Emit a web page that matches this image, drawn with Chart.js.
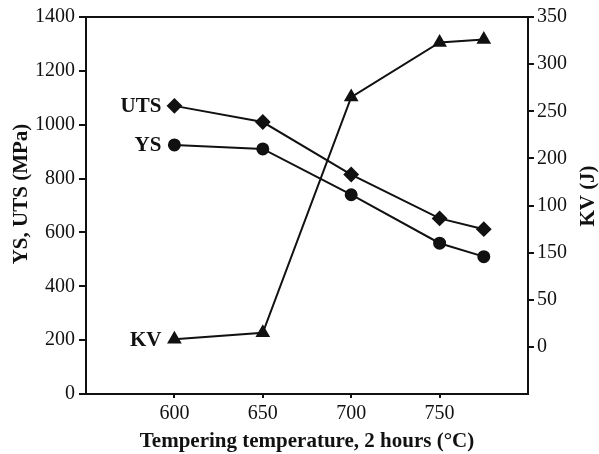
<!DOCTYPE html>
<html>
<head>
<meta charset="utf-8">
<script src="https://cdn.jsdelivr.net/npm/chart.js@4/dist/chart.umd.min.js"></script>
<style>
  html, body { margin: 0; padding: 0; background: #fff; }
</style>
</head>
<body>
<canvas id="chart" width="599" height="454"></canvas>
<script>
// tempering temperature (°C)
const temps = [600, 650, 700, 750, 775];
// strength (MPa) and impact energy (J)
const uts = [1070, 1010, 815, 652, 612];
const ys = [925, 910, 740, 560, 510];
const kv = [8, 15, 265, 323, 326];

const xTicks = [600, 650, 700, 750];
const strengthTicks = [0, 200, 400, 600, 800, 1000, 1200, 1400];
// right axis labels, one per 50 J step from 0 up (printed as in the paper)
const kvTickLabels = ['0', '50', '150', '100', '200', '250', '300', '350'];

const ink = '#111';
const serif = '"Liberation Serif", "Times New Roman", serif';

const pts = arr => arr.map((v, i) => ({ x: temps[i], y: v }));

const frameAndLabels = {
  id: 'frameAndLabels',
  afterDatasetsDraw(chart) {
    const { ctx, chartArea: a } = chart;
    ctx.save();
    ctx.strokeStyle = ink;
    ctx.lineWidth = 2;
    ctx.strokeRect(a.left, a.top, a.right - a.left, a.bottom - a.top);

    ctx.fillStyle = ink;
    ctx.font = 'bold 21px ' + serif;
    ctx.textAlign = 'right';
    ctx.textBaseline = 'middle';
    chart.data.datasets.forEach((ds, i) => {
      const p = chart.getDatasetMeta(i).data[0];
      ctx.fillText(ds.label, p.x - 13, p.y + 1);
    });

    // axis titles
    ctx.textAlign = 'center';
    ctx.save();
    ctx.translate(22, 194);
    ctx.rotate(-Math.PI / 2);
    ctx.fillText('YS, UTS (MPa)', 0, 0);
    ctx.restore();

    ctx.save();
    ctx.translate(589, 196);
    ctx.rotate(-Math.PI / 2);
    ctx.fillText('KV (J)', 0, 0);
    ctx.restore();

    ctx.fillText('Tempering temperature, 2 hours (°C)', (a.left + a.right) / 2, 442);
    ctx.restore();
  }
};

const lineStyle = {
  borderColor: ink,
  backgroundColor: ink,
  borderWidth: 2,
  pointRadius: 5.5,
  pointHoverRadius: 5.5,
  fill: false,
  tension: 0
};

new Chart(document.getElementById('chart'), {
  type: 'line',
  data: {
    datasets: [
      { label: 'UTS', data: pts(uts), yAxisID: 'y', pointStyle: 'rectRot', ...lineStyle, pointRadius: 6.5 },
      { label: 'YS', data: pts(ys), yAxisID: 'y', pointStyle: 'circle', ...lineStyle },
      { label: 'KV', data: pts(kv), yAxisID: 'y2', pointStyle: 'triangle', ...lineStyle, pointRadius: 6.5 }
    ]
  },
  options: {
    responsive: false,
    animation: false,
    layout: { padding: { top: 17, left: 0, right: 0, bottom: 0 } },
    plugins: { legend: { display: false }, tooltip: { enabled: false } },
    scales: {
      x: {
        type: 'linear',
        min: 550,
        max: 800,
        afterFit: s => { s.height = 60; },
        afterBuildTicks: s => { s.ticks = [550, ...xTicks, 800].map(v => ({ value: v })); },
        border: { display: false },
        grid: {
          drawOnChartArea: false,
          tickLength: 4,
          lineWidth: 2,
          color: c => xTicks.includes(c.tick && c.tick.value) ? ink : 'transparent'
        },
        ticks: {
          padding: 4,
          color: ink,
          font: { family: serif, size: 20 },
          callback: v => xTicks.includes(v) ? String(v) : ''
        }
      },
      y: {
        position: 'left',
        min: 0,
        max: 1400,
        afterFit: s => { s.width = 86; },
        afterBuildTicks: s => { s.ticks = strengthTicks.map(v => ({ value: v })); },
        border: { display: false },
        grid: { drawOnChartArea: false, tickLength: 7, lineWidth: 2, color: ink },
        ticks: {
          padding: 4,
          color: ink,
          font: { family: serif, size: 20 },
          callback: v => String(v)
        }
      },
      y2: {
        position: 'right',
        min: -50,
        max: 350,
        afterFit: s => { s.width = 71; },
        afterBuildTicks: s => { s.ticks = kvTickLabels.map((t, i) => ({ value: i * 50 })); },
        border: { display: false },
        grid: { drawOnChartArea: false, tickLength: 6, lineWidth: 2, color: ink },
        ticks: {
          padding: 3,
          color: ink,
          font: { family: serif, size: 20 },
          callback: v => kvTickLabels[v / 50]
        }
      }
    }
  },
  plugins: [frameAndLabels]
});
</script>
</body>
</html>
